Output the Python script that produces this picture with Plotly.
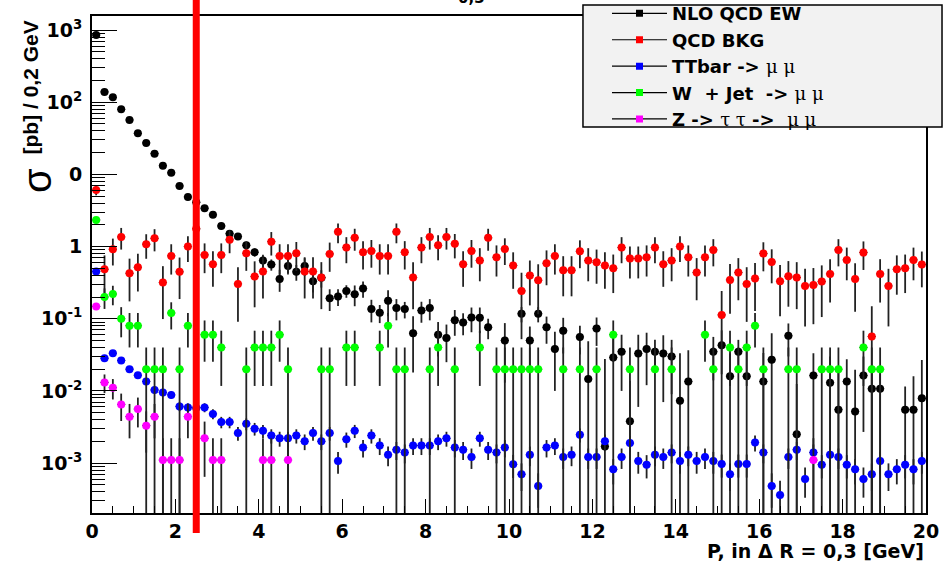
import plotly.graph_objects as go

# ---------------- data (bin contents, 0.2 GeV bins from 0 to 20) ----------------
N_BINS = 100
BIN_W = 0.2
x_centers = [round(BIN_W * (i + 0.5), 2) for i in range(N_BINS)]
x_half = [BIN_W / 2] * N_BINS

nlo_qcd_ew = [
    853, 139, 117, 79.8, 56.8, 37.1, 27.3, 19.4, 13.2, 10.5,
    6.92, 4.87, 4.11, 3.40, 2.75, 1.93, 1.51, 1.38, 1.04, 0.835,
    0.640, 0.563, 0.356, 0.540, 0.446, 0.540, 0.331, 0.37, 0.192, 0.203,
    0.243, 0.219, 0.262, 0.136, 0.121, 0.178, 0.141, 0.136, 0.063, 0.130,
    0.141, 0.060, 0.054, 0.095, 0.089, 0.104, 0.103, 0.076, None, 0.050,
    None, 0.117, 0.050, 0.117, 0.076, 0.038, 0.068, None, 0.056, 0.0146,
    0.073, 0.0017, 0.029, 0.035, 0.0038, 0.033, 0.038, 0.035, 0.033, 0.030,
    0.0073, 0.0135, None, None, 0.035, 0.043, 0.016, 0.035, 0.016, None,
    0.0135, 0.027, None, 0.058, 0.0025, None, 0.0163, None, 0.013, 0.0055,
    0.0135, 0.0052, 0.0163, 0.0107, 0.0107, None, None, 0.0055, 0.0055, 0.0079,
]
nlo_qcd_ew_err = [
    12, 3, 2.5, 2, 1.6, 1.2, 1.0, 0.8, 0.6, 0.5,
    0.4, 0.35, 0.3, 0.25, 0.22, 0.2, 0.17, 0.15, 0.13, 0.11,
    0.13, 0.10, 0.12, 0.11, 0.11, 0.15, 0.10, 0.10, 0.064, 0.053,
    0.048, 0.07, 0.066, 0.047, 0.034, 0.07, 0.046, 0.035, 0.045, 0.042,
    0.046, 0.03, 0.029, 0.037, 0.03, 0.039, 0.04, 0.024, None, 0.037,
    None, 0.028, 0.028, 0.028, 0.031, 0.028, 0.035, None, 0.024, 0.034,
    0.031, 0.026, 0.030, 0.025, 0.01, 0.027, 0.026, 0.016, 0.026, 0.021,
    0.026, 0.023, None, None, 0.021, 0.026, 0.017, 0.016, 0.02, None,
    0.02, 0.036, None, 0.028, 0.01, None, 0.017, None, 0.017, 0.015,
    0.014, 0.0145, 0.0136, 0.012, 0.012, None, None, 0.006, 0.0105, 0.019,
]
qcd_bkg = [
    6.09, 0.485, 0.918, 1.36, 0.427, 0.517, 1.08, 1.30, 0.317, 0.743,
    0.446, 1.0, 1.76, 0.767, 0.569, 0.767, 1.24, 0.304, 0.809, 0.384,
    0.451, 1.17, 0.743, 0.743, 0.809, 0.451, 0.451, 0.372, 0.791, 1.60,
    0.969, 1.32, 0.835, 0.871, 0.743, 0.743, 1.60, 0.835, 0.372, 0.969,
    1.36, 1.04, 1.36, 1.09, 0.569, 0.871, 0.640, 1.32, 0.711, 0.928,
    0.546, 0.243, 0.397, 0.342, 0.588, 0.743, 0.470, 0.470, 0.861, 0.640,
    0.607, 0.546, 0.501, 0.969, 0.682, 0.682, 0.711, 0.969, 0.569, 0.640,
    1.0, 0.711, 0.436, 0.711, 0.899, 0.113, 0.345, 0.436, 0.304, 0.360,
    0.800, 0.613, 0.331, 0.388, 0.372, 0.285, 0.294, 0.327, 0.418, 0.899,
    0.654, 0.356, 0.826, 0.0567, 0.418, 0.285, 0.485, 0.501, 0.654, 0.563,
]
ttbar = [
    0.451, 0.0284, 0.0333, 0.0264, 0.0200, 0.0165, 0.0135, 0.0103, 0.0095, 0.0088,
    0.0061, 0.0059, 0.0058, 0.0059, 0.0048, 0.0037, 0.0037, 0.0026, 0.0035, 0.0030,
    0.0028, 0.0024, 0.0022, 0.0022, 0.0024, 0.0020, 0.0026, 0.0020, 0.0026, 0.00107,
    0.00214, 0.0028, 0.00164, 0.0024, 0.00175, 0.0013, 0.00153, 0.0014, 0.00175, 0.00175,
    0.00175, 0.0020, 0.0022, 0.00164, 0.00153, 0.00121, 0.0022, 0.00153, 0.0014, 0.00164,
    0.00096, 0.0007, 0.0013, 0.00048, 0.00164, 0.00175, 0.00121, 0.0013, 0.00247, 0.00121,
    0.00121, 0.0020, 0.00082, 0.00121, 0.00189, 0.00107, 0.00095, 0.0013, 0.00121, 0.0014,
    0.00107, 0.0013, 0.00107, 0.00121, 0.00107, 0.00097, 0.0007, 0.00097, 0.00097, 0.00193,
    0.0014, 0.00048, 0.00036, 0.00121, 0.00153, 0.0006, 0.0014, 0.00095, 0.0013, 0.00121,
    0.00095, 0.00082, 0.0006, 0.0007, 0.00107, 0.0007, 0.00082, 0.00095, 0.00082, 0.00107,
]
w_jet = [
    2.34, 0.20, 0.22, 0.10, 0.08, 0.08, 0.02, 0.02, 0.02, 0.12,
    0.02, 0.08, None, 0.06, 0.06, 0.04, None, None, 0.02, 0.04,
    0.04, 0.04, 0.06, 0.02, None, None, None, 0.02, 0.02, None,
    0.04, 0.04, None, None, 0.04, 0.08, 0.02, 0.02, None, None,
    0.02, 0.04, None, 0.02, None, None, 0.04, None, 0.02, 0.02,
    0.02, 0.02, 0.02, 0.02, None, None, 0.02, None, 0.02, None,
    0.02, None, 0.06, None, 0.02, None, None, 0.02, None, 0.02,
    None, None, None, 0.06, 0.02, None, 0.04, 0.02, 0.04, 0.08,
    0.02, None, None, 0.02, 0.02, None, None, 0.02, 0.02, 0.02,
    None, None, 0.04, 0.02, 0.02, None, None, None, None, None,
]
z_tautau = [
    0.148, 0.0131, 0.0111, 0.0065, 0.0044, 0.0056, 0.0033, 0.0044, 0.0011, 0.0011,
    0.0011, 0.0044, None, 0.0022, 0.0011, 0.0011, None, None, None, None,
    0.0011, 0.0011, None, 0.0011, None, None, None, None, None, None,
] + [None] * 56 + [0.0011] + [None] * 13

# event weights of the weighted histograms (statistical error = sqrt(w * content))
w_qcd_bkg = 0.15
w_ttbar = 1.2e-4
w_wjet = 0.02
w_ztautau = 0.0011

GREEK = "<span style='font-family:DejaVu Serif;font-weight:normal'>{}</span>"
series_names = [
    "NLO QCD EW",
    "QCD BKG",
    "TTbar -> " + GREEK.format("\u03bc \u03bc"),
    "W \u00a0+ Jet \u00a0-> " + GREEK.format("\u03bc \u03bc"),
    "Z -> " + GREEK.format("\u03c4 \u03c4") + " -> \u00a0" + GREEK.format("\u03bc \u03bc"),
]
series_colors = ["#000000", "#ff0000", "#0000ff", "#00ff00", "#ff00ff"]

y_tickvals = [1e-3, 1e-2, 1e-1, 1, 10, 100, 1000]
y_ticktext = ["10<sup>-3</sup>", "10<sup>-2</sup>", "10<sup>-1</sup>", "1", "0",
              "10<sup>2</sup>", "10<sup>3</sup>"]
cut_value = 2.5


def stat_err(vals, w):
    return [None if v is None else (w * v) ** 0.5 for v in vals]


values = [nlo_qcd_ew, qcd_bkg, ttbar, w_jet, z_tautau]
errors = [nlo_qcd_ew_err, stat_err(qcd_bkg, w_qcd_bkg), stat_err(ttbar, w_ttbar),
          stat_err(w_jet, w_wjet), stat_err(z_tautau, w_ztautau)]

FONT = "DejaVu Sans"
FONT_Y = "Liberation Sans"
fig = go.Figure()

for vals, errs, col in zip(values, errors, series_colors):
    fig.add_trace(go.Scatter(
        x=x_centers, y=vals, mode="markers", showlegend=False,
        marker=dict(symbol="circle", size=8, color=col, line=dict(width=0)),
        error_y=dict(type="data", array=errs, symmetric=True, color="#222222",
                     thickness=1.8, width=0),
        error_x=dict(type="data", array=x_half, color="#222222", thickness=1, width=0),
    ))

# legend entries (line + marker as in the original legend)
for name, col in zip(series_names, series_colors):
    fig.add_trace(go.Scatter(
        x=[None], y=[None], mode="lines+markers", name=name,
        line=dict(color="#000000", width=1.2),
        marker=dict(symbol="square", size=7, color=col),
    ))

# legend box
fig.add_shape(type="rect", xref="paper", yref="paper",
              x0=0.5887, x1=1.0192, y0=0.7768, y1=1.022,
              fillcolor="#f2f2f2", line=dict(color="#000000", width=1.5), layer="above")

# cut line
fig.add_shape(type="line", xref="x", yref="paper", x0=cut_value, x1=cut_value,
              y0=-0.04, y1=1.04, line=dict(color="#ff0000", width=7), layer="above")

fig.update_layout(
    width=946, height=561,
    margin=dict(l=92, r=20, t=16, b=48, autoexpand=False),
    paper_bgcolor="white", plot_bgcolor="white",
    font=dict(family=FONT, color="black"),
    legend=dict(x=0.6175, y=1.042, xanchor="left", yanchor="top",
                bgcolor="rgba(0,0,0,0)", borderwidth=0,
                font=dict(family=FONT, size=18, weight="bold", color="black"),
                itemwidth=55, tracegroupgap=0),
    xaxis=dict(range=[0, 20], showgrid=False, zeroline=False,
               showline=True, linecolor="black", linewidth=2, mirror=True,
               ticks="inside", ticklen=14, tickwidth=1.2, tickcolor="black",
               tick0=0, dtick=2,
               minor=dict(ticks="inside", ticklen=7, tickwidth=1, tickcolor="black",
                          dtick=0.5, showgrid=False),
               tickfont=dict(family=FONT, size=19, weight="bold")),
    yaxis=dict(type="log", range=[-3.692, 3.195], showgrid=False, zeroline=False,
               showline=True, linecolor="black", linewidth=2, mirror=True,
               ticks="inside", ticklen=25, tickwidth=1.2, tickcolor="black",
               tickvals=y_tickvals, ticktext=y_ticktext, ticklabelstandoff=4,
               minor=dict(ticks="inside", ticklen=13, tickwidth=1, tickcolor="black",
                          dtick="D1", showgrid=False),
               tickfont=dict(family=FONT, size=19, weight="bold")),
    annotations=[
        dict(text="P, in \u0394 R = 0,3 [GeV]", xref="paper", yref="paper",
             x=1.0, y=-0.077, xanchor="right", yanchor="middle", showarrow=False,
             font=dict(family=FONT, size=19, weight="bold", color="black")),
        dict(text="\u03c3", xref="paper", yref="paper", x=-0.0372, y=0.670,
             xanchor="right", yanchor="middle", textangle=-90, showarrow=False,
             font=dict(family=FONT_Y, size=40, color="black")),
        dict(text="[pb] / 0,2 GeV", xref="paper", yref="paper", x=-0.0564, y=0.996,
             xanchor="right", yanchor="top", textangle=-90, showarrow=False,
             font=dict(family=FONT_Y, size=21, weight="bold", color="black")),
        dict(text="0,3", xref="paper", yref="paper", x=0.455, y=1.036,
             xanchor="center", yanchor="middle", showarrow=False,
             font=dict(family=FONT, size=15, weight="bold", color="black")),
    ],
)

fig.write_html("out.html")
